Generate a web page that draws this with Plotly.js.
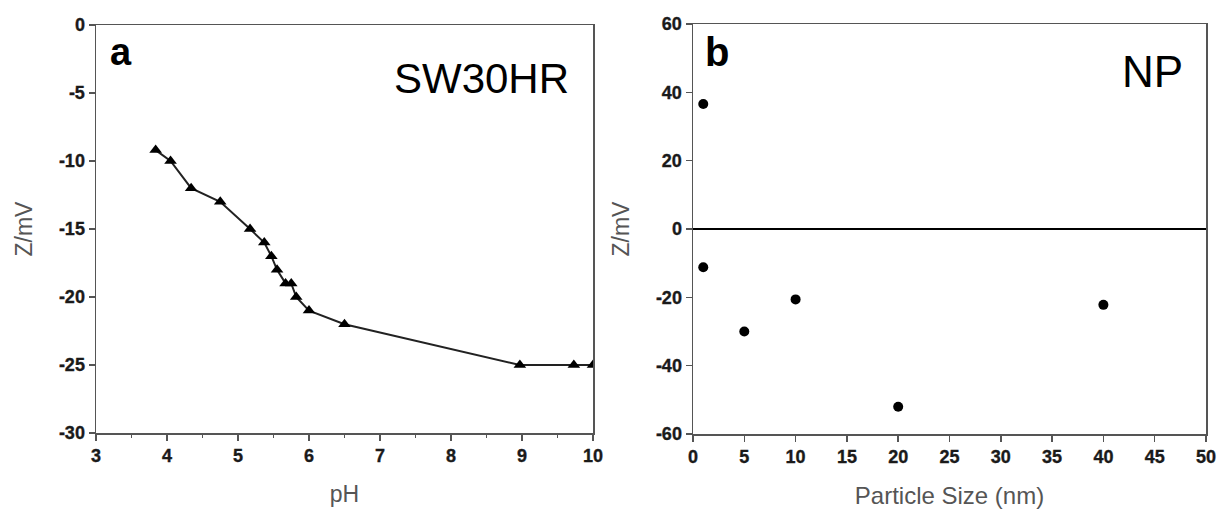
<!DOCTYPE html>
<html>
<head>
<meta charset="utf-8">
<script src="https://cdn.plot.ly/plotly-3.0.1.min.js"></script>
<style>
html,body{margin:0;padding:0;background:#fff;}
#chart{width:1220px;height:511px;}
#chart .xtick text, #chart .ytick text, #chart .x2tick text, #chart .y2tick text{font-weight:bold !important; stroke:#1a1a1a; stroke-width:0.35px;}
</style>
</head>
<body>
<div id="chart"></div>
<script>
// Panel a: SW30HR zeta potential vs pH
const phValues = [3.84, 4.05, 4.34, 4.75, 5.17, 5.37, 5.47, 5.55, 5.67, 5.75, 5.82, 6.0, 6.5, 8.97, 9.73, 10.0];
const zetaSW30HR = [-9.2, -10, -12, -13, -15, -16, -17, -18, -19, -19, -20, -21, -22, -25, -25, -25];
// Panel b: NP zeta potential vs particle size
const particleSize = [1, 1, 5, 10, 20, 40];
const zetaNP = [36.6, -11.2, -30, -20.6, -52, -22.2];

// Tick labels
const phTicks = [3, 4, 5, 6, 7, 8, 9, 10];
const zetaATicks = [0, -5, -10, -15, -20, -25, -30];
const sizeTicks = [0, 5, 10, 15, 20, 25, 30, 35, 40, 45, 50];
const zetaBTicks = [60, 40, 20, 0, -20, -40, -60];
const lbl = v => String(v);

const FAM = 'Liberation Sans';
const tickFont = {family: FAM, size: 18, color: '#1a1a1a', weight: 700};
const titleFont = {family: FAM, size: 23, color: '#555'};
const axisCommon = {
  showline: true, mirror: true, linecolor: '#555', linewidth: 1.5,
  ticks: 'outside', ticklen: 6, tickwidth: 1.5, tickcolor: '#555',
  showgrid: false, zeroline: false, tickfont: tickFont, fixedrange: true,
  tickmode: 'array'
};

const traces = [
  {x: phValues, y: zetaSW30HR, xaxis: 'x', yaxis: 'y', type: 'scatter', mode: 'lines+markers',
   line: {color: '#222', width: 2}, marker: {symbol: 'triangle-up', size: 11, color: '#000'}, cliponaxis: true},
  {x: particleSize, y: zetaNP, xaxis: 'x2', yaxis: 'y2', type: 'scatter', mode: 'markers',
   marker: {symbol: 'circle', size: 10, color: '#000'}}
];

const layout = {
  width: 1220, height: 511,
  margin: {l: 0, r: 0, t: 0, b: 0},
  paper_bgcolor: '#fff', plot_bgcolor: '#fff',
  showlegend: false,
  xaxis: Object.assign({}, axisCommon, {
    domain: [96/1220, 593/1220], range: [3, 10], anchor: 'y',
    tickvals: phTicks, ticktext: phTicks.map(lbl),
    minor: {tickmode: 'linear', dtick: 0.5, ticks: 'outside', ticklen: 3, tickcolor: '#555', tickwidth: 1.5},
    title: {text: 'pH', font: titleFont, standoff: 21}
  }),
  yaxis: Object.assign({}, axisCommon, {
    domain: [(511-433)/511, (511-25)/511], range: [-30, 0], anchor: 'x',
    tickvals: zetaATicks, ticktext: zetaATicks.map(lbl),
    title: {text: 'Z/mV', font: titleFont, standoff: 20}
  }),
  xaxis2: Object.assign({}, axisCommon, {
    domain: [693/1220, 1206/1220], range: [0, 50], anchor: 'y2',
    tickvals: sizeTicks, ticktext: sizeTicks.map(lbl),
    title: {text: 'Particle Size (nm)', font: Object.assign({}, titleFont, {size: 24}), standoff: 21}
  }),
  yaxis2: Object.assign({}, axisCommon, {
    domain: [(511-434)/511, (511-24)/511], range: [-60, 60], anchor: 'x2',
    tickvals: zetaBTicks, ticktext: zetaBTicks.map(lbl),
    zeroline: true, zerolinecolor: '#000', zerolinewidth: 2.5,
    title: {text: 'Z/mV', font: titleFont, standoff: 20}
  }),
  annotations: [
    {text: '<b>a</b>', xref: 'x domain', yref: 'y domain', x: 0.025, y: 0.99, xanchor: 'left', yanchor: 'top',
     showarrow: false, font: {family: FAM, size: 38, color: '#000'}},
    {text: 'SW30HR', xref: 'x domain', yref: 'y domain', x: 0.955, y: 0.87, xanchor: 'right', yanchor: 'middle',
     showarrow: false, font: {family: FAM, size: 42, color: '#000'}},
    {text: '<b>b</b>', xref: 'x2 domain', yref: 'y2 domain', x: 0.02, y: 0.99, xanchor: 'left', yanchor: 'top',
     showarrow: false, font: {family: FAM, size: 40, color: '#000'}},
    {text: 'NP', xref: 'x2 domain', yref: 'y2 domain', x: 0.96, y: 0.885, xanchor: 'right', yanchor: 'middle',
     showarrow: false, font: {family: FAM, size: 44, color: '#000'}}
  ]
};

Plotly.newPlot('chart', traces, layout, {displayModeBar: false, staticPlot: true});
</script>
</body>
</html>
